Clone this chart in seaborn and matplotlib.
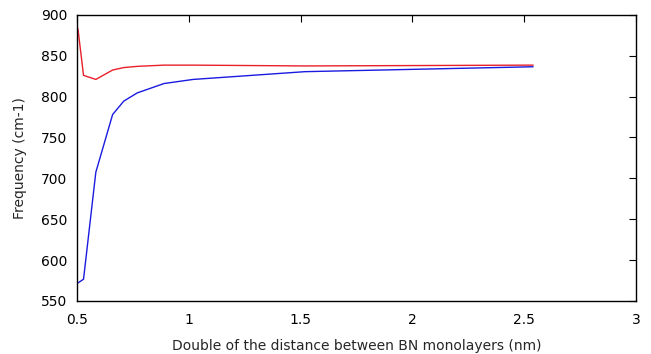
import matplotlib
matplotlib.use("Agg")
import matplotlib.pyplot as plt
import seaborn as sns
import pandas as pd

distance = [0.505, 0.53, 0.585, 0.66, 0.71, 0.77, 0.89, 1.02, 1.52, 2.54]
freq_red = [883, 826, 821, 832.5, 835.5, 837, 838.5, 838.5, 837.5, 838.5]
freq_blue = [572, 576.5, 707.5, 778, 794.5, 804.5, 816, 821, 830.5, 836.5]

sns.set_theme(style="white")
plt.rcParams['font.family'] = ['DejaVu Sans']

df = pd.concat([
    pd.DataFrame({"x": distance, "y": freq_red, "s": "red"}),
    pd.DataFrame({"x": distance, "y": freq_blue, "s": "blue"}),
])

fig, ax = plt.subplots(figsize=(6.51, 3.54), dpi=100)
fig.subplots_adjust(left=0.118, right=0.977, top=0.958, bottom=0.15)
sns.lineplot(data=df, x="x", y="y", hue="s", palette={"red": "#e8202a", "blue": "#1a1ae0"},
             ax=ax, legend=False, linewidth=1.0, sort=False)

ax.set_xlim(0.5, 3)
ax.set_ylim(550, 900)
ax.set_xticks([0.5, 1, 1.5, 2, 2.5, 3])
ax.set_xticklabels(["0.5", "1", "1.5", "2", "2.5", "3"])
ax.set_yticks(range(550, 901, 50))
ax.set_xlabel("Double of the distance between BN monolayers (nm)", fontsize=10, labelpad=8)
ax.set_ylabel("Frequency (cm-1)", fontsize=10, labelpad=10)
ax.tick_params(direction="in", length=5, width=0.8, top=True, right=True,
               labelsize=10, colors="black")
ax.tick_params(axis="x", pad=9)
ax.tick_params(axis="y", pad=7)
for sp in ax.spines.values():
    sp.set_color("black")
    sp.set_linewidth(1.0)
fig.savefig("out.png", dpi=100, facecolor="white")
